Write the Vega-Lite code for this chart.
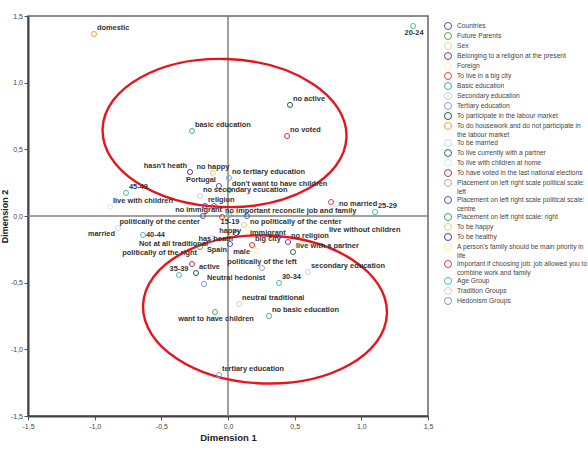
{
  "$schema": "https://vega.github.io/schema/vega-lite/v6.json",
  "width": 400,
  "height": 400,
  "autosize": "none",
  "padding": {"left": 28, "top": 16, "right": 160, "bottom": 38},
  "background": "white",
  "config": {
    "view": {"stroke": "#666666", "strokeWidth": 1.5},
    "font": "Liberation Sans"
  },
  "datasets": {
    "points": [
      {"label": "domestic", "group": "To do housework and do not participate in the labour market", "x": -1.005, "y": 1.365},
      {"label": "20-24", "group": "Age Group", "x": 1.388, "y": 1.425},
      {"label": "no active", "group": "To participate in the labour market", "x": 0.465, "y": 0.833},
      {"label": "no voted", "group": "To have voted in the last national  elections", "x": 0.443, "y": 0.6},
      {"label": "basic education", "group": "Basic education", "x": -0.27, "y": 0.638},
      {"label": "hasn't heath", "group": "To be healthy", "x": -0.285, "y": 0.33},
      {"label": "no happy", "group": "To be happy", "x": -0.113, "y": 0.323},
      {"label": "no tertiary education", "group": "Tertiary education", "x": 0.0075, "y": 0.285},
      {"label": "Portugal", "group": "Countries", "x": -0.068, "y": 0.225},
      {"label": "don't want to have children", "group": "Future Parents", "x": 0.0075, "y": 0.195},
      {"label": "no secondary ecucation", "group": "Secondary education", "x": -0.21, "y": 0.15},
      {"label": "45-49", "group": "Age Group", "x": -0.765, "y": 0.173},
      {"label": "live with children", "group": "To live with children at home", "x": -0.885, "y": 0.068},
      {"label": "religion", "group": "Belonging to a religion at the present", "x": -0.173, "y": 0.075},
      {"label": "-", "group": "Important if choosing job: job allowed you to combine work and family", "x": -0.105, "y": 0.075},
      {"label": "no immigrant", "group": "Foreign", "x": -0.0225, "y": 0.0},
      {"label": "no important reconcile job and family", "group": "Important if choosing job: job allowed you to combine work and family", "x": -0.045, "y": -0.0075},
      {"label": "politically of the center", "group": "Placement on left right scale political scale: centre", "x": -0.1875, "y": 0.0},
      {"label": "married", "group": "To be married", "x": -0.825, "y": -0.09},
      {"label": "40-44", "group": "Age Group", "x": -0.6375, "y": -0.1425},
      {"label": "Not at all traditional", "group": "Tradition  Groups", "x": -0.1275, "y": -0.165},
      {"label": "politically of the right", "group": "Placement on left right scale: right", "x": -0.21, "y": -0.2325},
      {"label": "15-19", "group": "Age Group", "x": 0.0075, "y": 0.0075},
      {"label": "happy", "group": "To be happy", "x": 0.12, "y": -0.0675},
      {"label": "has heath", "group": "To be healthy", "x": 0.06, "y": -0.1275},
      {"label": "Spain", "group": "Countries", "x": 0.015, "y": -0.21},
      {"label": "male", "group": "Sex", "x": 0.1875, "y": -0.225},
      {"label": "no politically of the center", "group": "Placement on left right scale political scale: centre", "x": 0.1425, "y": 0.0},
      {"label": "immigrant", "group": "Foreign", "x": 0.1425, "y": -0.0825},
      {"label": "big city", "group": "To live in a big city", "x": 0.18, "y": -0.2175},
      {"label": "-", "group": "A person's family should be main priority in life", "x": 0.2175, "y": -0.2625},
      {"label": "no religion", "group": "Belonging to a religion at the present", "x": 0.45, "y": -0.195},
      {"label": "live with a partner", "group": "To live currently with a partner", "x": 0.4875, "y": -0.27},
      {"label": "live without children", "group": "To live with children at home", "x": 0.735, "y": -0.15},
      {"label": "no married", "group": "To be married", "x": 0.81, "y": 0.09},
      {"label": "-", "group": "To live in a big city", "x": 0.7725, "y": 0.105},
      {"label": "25-29", "group": "Age Group", "x": 1.1025, "y": 0.03},
      {"label": "secondary education", "group": "Secondary education", "x": 0.6, "y": -0.42},
      {"label": "politically of the left", "group": "Placement on left right scale political scale: left", "x": 0.255, "y": -0.39},
      {"label": "30-34", "group": "Age Group", "x": 0.3825, "y": -0.5025},
      {"label": "Neutral hedonist", "group": "Hedonism Groups", "x": -0.18, "y": -0.51},
      {"label": "active", "group": "To participate in the labour market", "x": -0.24, "y": -0.4275},
      {"label": "-", "group": "To have voted in the last national  elections", "x": -0.27, "y": -0.36},
      {"label": "35-39", "group": "Age Group", "x": -0.3675, "y": -0.4425},
      {"label": "neutral traditional", "group": "Tradition  Groups", "x": 0.0825, "y": -0.66},
      {"label": "no basic education", "group": "Basic education", "x": 0.3075, "y": -0.75},
      {"label": "want to have children", "group": "Future Parents", "x": -0.0975, "y": -0.72},
      {"label": "tertiary education", "group": "Tertiary education", "x": -0.0675, "y": -1.1925}
    ],
    "ellipses": [
      {"name": "upper", "x": -0.026, "y": 0.6225},
      {"name": "lower", "x": 0.2775, "y": -0.701}
    ],
    "zero": [{"v": 0}]
  },
  "layer": [
    {
      "data": {"name": "zero"},
      "mark": {"type": "rule", "color": "#808080", "strokeWidth": 1.5},
      "encoding": {
        "x": {"field": "v", "type": "quantitative", "scale": {"domain": [-1.5, 1.5], "nice": false, "zero": false}}
      }
    },
    {
      "data": {"name": "zero"},
      "mark": {"type": "rule", "color": "#808080", "strokeWidth": 1.5},
      "encoding": {
        "y": {"field": "v", "type": "quantitative", "scale": {"domain": [-1.5, 1.5], "nice": false, "zero": false}}
      }
    },
    {
      "data": {"name": "ellipses"},
      "mark": {
        "type": "point",
        "shape": "M 1 0 C 1 0.335 0.5523 0.6066 0 0.6066 C -0.5523 0.6066 -1 0.335 -1 0 C -1 -0.335 -0.5523 -0.6066 0 -0.6066 C 0.5523 -0.6066 1 -0.335 1 0 Z",
        "size": 59536,
        "filled": false,
        "stroke": "#e8141c",
        "strokeWidth": 2.4,
        "opacity": 1,
        "angle": 2
      },
      "encoding": {
        "x": {"field": "x", "type": "quantitative"},
        "y": {"field": "y", "type": "quantitative"}
      }
    },
    {
      "data": {"name": "points"},
      "mark": {"type": "point", "shape": "circle", "filled": false, "size": 25, "strokeWidth": 1, "opacity": 1},
      "encoding": {
        "x": {
          "field": "x", "type": "quantitative",
          "scale": {"domain": [-1.5, 1.5], "nice": false, "zero": false},
          "axis": {
            "title": "Dimension 1",
            "values": [-1.5, -1, -0.5, 0, 0.5, 1, 1.5],
            "labelExpr": "replace(replace(format(datum.value, '.1f'), '.', ','), '\u2212', '-')",
            "grid": false, "tickSize": 4, "tickColor": "#555555",
            "labelFontSize": 7, "labelColor": "#444444", "labelPadding": 2,
            "labelFlush": false, "labelOverlap": false,
            "domainColor": "#444444", "domainWidth": 2,
            "titleFontSize": 9.5, "titleFontWeight": "bold", "titleColor": "#222222", "titlePadding": 3
          }
        },
        "y": {
          "field": "y", "type": "quantitative",
          "scale": {"domain": [-1.5, 1.5], "nice": false, "zero": false},
          "axis": {
            "title": "Dimension 2",
            "values": [-1.5, -1, -0.5, 0, 0.5, 1, 1.5],
            "labelExpr": "replace(replace(format(datum.value, '.1f'), '.', ','), '\u2212', '-')",
            "grid": false, "tickSize": 4, "tickColor": "#555555",
            "labelFontSize": 7, "labelColor": "#444444", "labelPadding": 1.5,
            "labelFlush": false, "labelOverlap": false,
            "domainColor": "#444444", "domainWidth": 2,
            "titleFontSize": 9, "titleFontWeight": "bold", "titleColor": "#222222", "titlePadding": 1
          }
        },
        "color": {
          "field": "group", "type": "nominal",
          "scale": {
            "domain": ["Countries", "Future Parents", "Sex", "Belonging to a religion at the present", "Foreign", "To live in a big city", "Basic education", "Secondary education", "Tertiary education", "To participate in the labour market", "To do housework and do not participate in the labour market", "To be married", "To live currently with a partner", "To live with children at home", "To have voted in the last national  elections", "Placement on left right scale political scale: left", "Placement on left right scale political scale: centre", "Placement on left right scale: right", "To be happy", "To be healthy", "A person's family should be main priority in life", "Important if choosing job: job allowed you to combine work and family", "Age Group", "Tradition  Groups", "Hedonism Groups"],
            "range": ["#5a50a8", "#4cae4c", "#d6d6a8", "#7b3f9a", "#f6f69a", "#e0404a", "#40b0a0", "#d0d0d0", "#6fa6d8", "#1f6040", "#f0a030", "#d4d4ee", "#236b6b", "#d4f0d4", "#c03050", "#a8a8a8", "#4b5cb0", "#3caa3c", "#d4d48c", "#6a2a8a", "#f6f68c", "#e03a50", "#40c0b0", "#ddcccc", "#6a9fd0"]
          },
          "legend": {
            "title": null,
            "orient": "none",
            "legendX": 416,
            "legendY": 6,
            "symbolType": "circle",
            "symbolSize": 49,
            "symbolStrokeWidth": 1,
            "symbolOpacity": 1,
            "labelFontSize": 6.7,
            "labelColor": "#444444",
            "labelLimit": 220,
            "labelOffset": 5,
            "rowPadding": -6.5,
            "labelExpr": "datum.label == \"To do housework and do not participate in the labour market\" ? [\"To do housework and do not participate in\", \"the labour market\"] : datum.label == \"Placement on left right scale political scale: left\" ? [\"Placement on left right scale political scale:\", \"left\"] : datum.label == \"Placement on left right scale political scale: centre\" ? [\"Placement on left right scale political scale:\", \"centre\"] : datum.label == \"A person's family should be main priority in life\" ? [\"A person's family should be main priority in\", \"life\"] : datum.label == \"Important if choosing job: job allowed you to combine work and family\" ? [\"Important if choosing job: job allowed you to\", \"combine work and family\"] : datum.label"
          }
        }
      }
    },
    {
      "data": {"name": "points"},
      "transform": [{"filter": {"not": {"field": "label", "oneOf": ["-", "hasn't heath", "Portugal", "no immigrant", "no happy", "politically of the left", "35-39", "20-24", "15-19", "want to have children", "politically of the center", "married", "Not at all traditional", "politically of the right", "happy", "has heath", "Spain", "male", "no politically of the center", "immigrant", "40-44", "no married"]}}}],
      "mark": {"type": "text", "align": "left", "baseline": "middle", "dx": 3, "dy": -6, "fontSize": 7.4, "fontWeight": "bold", "font": "Liberation Sans", "color": "#333333"},
      "encoding": {"x": {"field": "x", "type": "quantitative"}, "y": {"field": "y", "type": "quantitative"}, "text": {"field": "label"}}
    },
    {
      "data": {"name": "points"},
      "transform": [{"filter": {"field": "label", "oneOf": ["hasn't heath", "Portugal", "no immigrant"]}}],
      "mark": {"type": "text", "align": "right", "baseline": "middle", "dx": -3, "dy": -6, "fontSize": 7.4, "fontWeight": "bold", "font": "Liberation Sans", "color": "#333333"},
      "encoding": {"x": {"field": "x", "type": "quantitative"}, "y": {"field": "y", "type": "quantitative"}, "text": {"field": "label"}}
    },
    {
      "data": {"name": "points"},
      "transform": [{"filter": {"field": "label", "oneOf": ["no happy", "politically of the left", "35-39"]}}],
      "mark": {"type": "text", "align": "center", "baseline": "middle", "dx": 0, "dy": -6, "fontSize": 7.4, "fontWeight": "bold", "font": "Liberation Sans", "color": "#333333"},
      "encoding": {"x": {"field": "x", "type": "quantitative"}, "y": {"field": "y", "type": "quantitative"}, "text": {"field": "label"}}
    },
    {
      "data": {"name": "points"},
      "transform": [{"filter": {"field": "label", "oneOf": ["20-24", "15-19", "want to have children"]}}],
      "mark": {"type": "text", "align": "center", "baseline": "middle", "dx": 1, "dy": 7, "fontSize": 7.4, "fontWeight": "bold", "font": "Liberation Sans", "color": "#333333"},
      "encoding": {"x": {"field": "x", "type": "quantitative"}, "y": {"field": "y", "type": "quantitative"}, "text": {"field": "label"}}
    },
    {
      "data": {"name": "points"},
      "transform": [{"filter": {"field": "label", "oneOf": ["politically of the center", "married", "Not at all traditional", "politically of the right", "happy", "has heath", "Spain", "male"]}}],
      "mark": {"type": "text", "align": "right", "baseline": "middle", "dx": -3, "dy": 6, "fontSize": 7.4, "fontWeight": "bold", "font": "Liberation Sans", "color": "#333333"},
      "encoding": {"x": {"field": "x", "type": "quantitative"}, "y": {"field": "y", "type": "quantitative"}, "text": {"field": "label"}}
    },
    {
      "data": {"name": "points"},
      "transform": [{"filter": {"field": "label", "oneOf": ["no politically of the center", "immigrant"]}}],
      "mark": {"type": "text", "align": "left", "baseline": "middle", "dx": 3, "dy": 6, "fontSize": 7.4, "fontWeight": "bold", "font": "Liberation Sans", "color": "#333333"},
      "encoding": {"x": {"field": "x", "type": "quantitative"}, "y": {"field": "y", "type": "quantitative"}, "text": {"field": "label"}}
    },
    {
      "data": {"name": "points"},
      "transform": [{"filter": {"field": "label", "oneOf": ["40-44", "no married"]}}],
      "mark": {"type": "text", "align": "left", "baseline": "middle", "dx": 3, "dy": 0, "fontSize": 7.4, "fontWeight": "bold", "font": "Liberation Sans", "color": "#333333"},
      "encoding": {"x": {"field": "x", "type": "quantitative"}, "y": {"field": "y", "type": "quantitative"}, "text": {"field": "label"}}
    }
  ]
}
